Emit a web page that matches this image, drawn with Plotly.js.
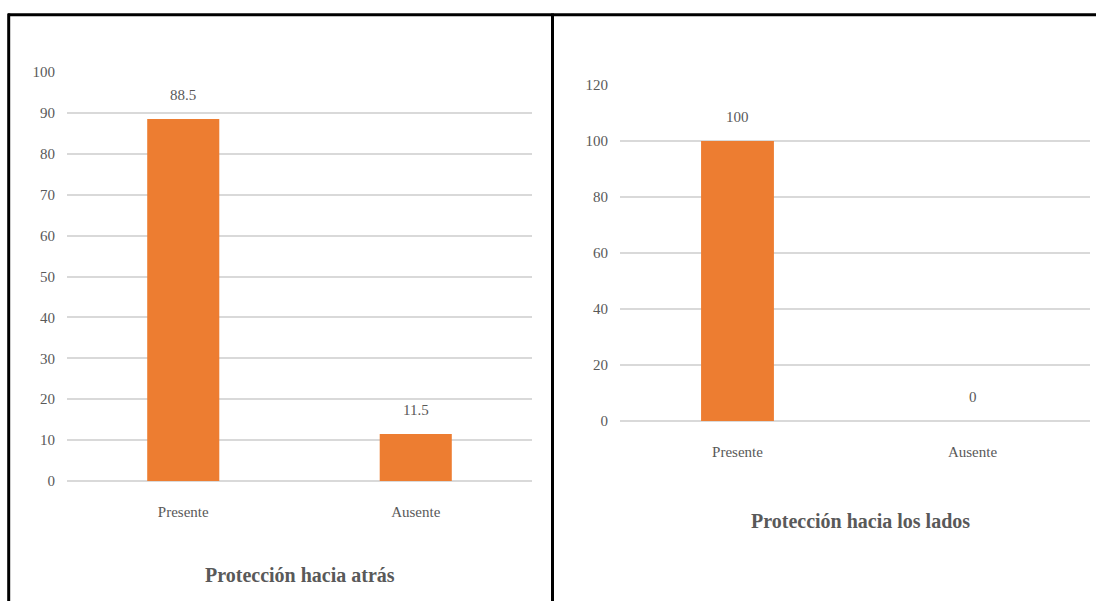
<!DOCTYPE html>
<html>
<head>
<meta charset="utf-8">
<script src="https://cdn.plot.ly/plotly-3.0.1.min.js"></script>
<style>html,body{margin:0;padding:0;background:#fff;}#chart{width:1096px;height:601px;}</style>
</head>
<body>
<div id="chart"></div>
<script>
const categories = ["Presente", "Ausente"];
const valuesAtras = [88.5, 11.5];
const valuesLados = [100, 0];
const titleAtras = "Protección hacia atrás";
const titleLados = "Protección hacia los lados";
const ticksAtras = [0, 10, 20, 30, 40, 50, 60, 70, 80, 90, 100];
const ticksLados = [0, 20, 40, 60, 80, 100, 120];

const W = 1096, H = 601;
const barColor = "#ED7D31";
const gridColor = "#d9d9d9";
const textColor = "#595959";
const fontFam = "Liberation Serif, Times New Roman, serif";

const traces = [
  {type: "bar", x: categories, y: valuesAtras, xaxis: "x", yaxis: "y",
   marker: {color: barColor}, hoverinfo: "none", cliponaxis: false},
  {type: "bar", x: categories, y: valuesLados, xaxis: "x2", yaxis: "y2",
   marker: {color: barColor}, hoverinfo: "none", cliponaxis: false}
];

function xa(l, r) {
  return {domain: [l / W, r / W], showgrid: false, zeroline: false, showline: false,
    ticks: "", ticklabelstandoff: 20, tickfont: {family: fontFam, size: 15, color: textColor},
    fixedrange: true};
}
function ya(top, bottom, range, tickvals) {
  return {domain: [(H - bottom) / H, (H - top) / H], range: range, tickmode: "array",
    tickvals: tickvals, showgrid: true, gridcolor: gridColor, gridwidth: 2,
    zeroline: true, zerolinecolor: gridColor, zerolinewidth: 2, showline: false,
    ticks: "", ticklabelstandoff: 11, tickfont: {family: fontFam, size: 15, color: textColor},
    fixedrange: true};
}

const annotations = [];
categories.forEach((c, i) => {
  annotations.push({x: c, y: valuesAtras[i], xref: "x", yref: "y", text: String(valuesAtras[i]),
    showarrow: false, yanchor: "middle", yshift: 24, font: {family: fontFam, size: 15, color: textColor}});
  annotations.push({x: c, y: valuesLados[i], xref: "x2", yref: "y2", text: String(valuesLados[i]),
    showarrow: false, yanchor: "middle", yshift: 24, font: {family: fontFam, size: 15, color: textColor}});
});
annotations.push({x: 300 / W, y: (H - 575) / H, xref: "paper", yref: "paper", text: "<b>" + titleAtras + "</b>",
  showarrow: false, xanchor: "center", yanchor: "middle", font: {family: fontFam, size: 20, color: textColor}});
annotations.push({x: 860 / W, y: (H - 521) / H, xref: "paper", yref: "paper", text: "<b>" + titleLados + "</b>",
  showarrow: false, xanchor: "center", yanchor: "middle", font: {family: fontFam, size: 20, color: textColor}});

const shapes = [
  {type: "line", xref: "paper", yref: "paper", x0: 8 / W, x1: 1, y0: (H - 14.7) / H, y1: (H - 14.7) / H, line: {color: "#000", width: 3}},
  {type: "line", xref: "paper", yref: "paper", x0: 8.7 / W, x1: 8.7 / W, y0: 0, y1: (H - 13.5) / H, line: {color: "#000", width: 3}},
  {type: "line", xref: "paper", yref: "paper", x0: 552.5 / W, x1: 552.5 / W, y0: 0, y1: (H - 13.5) / H, line: {color: "#000", width: 3}}
];

const layout = {
  width: W, height: H, margin: {l: 0, r: 0, t: 0, b: 0},
  paper_bgcolor: "#fff", plot_bgcolor: "rgba(0,0,0,0)", showlegend: false,
  bargap: 0.69,
  xaxis: xa(67, 532), yaxis: ya(72, 481, [0, 100], ticksAtras),
  xaxis2: Object.assign(xa(620, 1090), {anchor: "y2"}),
  yaxis2: Object.assign(ya(85, 421, [0, 120], ticksLados), {anchor: "x2"}),
  annotations: annotations, shapes: shapes
};
layout.xaxis.anchor = "y";
layout.yaxis.anchor = "x";

Plotly.newPlot("chart", traces, layout, {displayModeBar: false, staticPlot: true});
</script>
</body>
</html>
